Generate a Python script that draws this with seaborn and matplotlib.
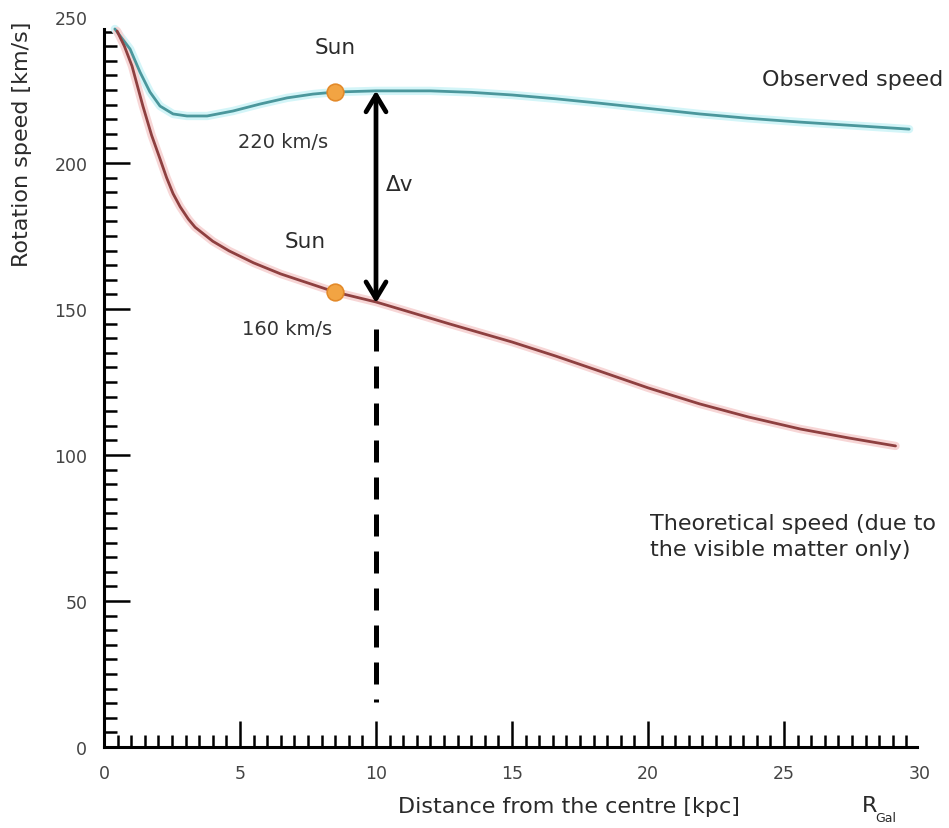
import numpy as np
import pandas as pd
import matplotlib
matplotlib.use("Agg")
import matplotlib.pyplot as plt
from matplotlib.ticker import MultipleLocator
import seaborn as sns

# Observed rotation curve (kpc, km/s)
obs_r = [0.40, 0.96, 1.32, 1.69, 2.06, 2.54, 3.05, 3.79, 4.74, 5.74, 6.73, 7.68, 8.5,
         10.0, 12.0, 13.5, 15.0, 16.6, 18.2, 20.0, 21.9, 23.7, 25.6, 27.6, 29.6]
obs_v = [245.9, 239.0, 231.2, 224.3, 219.5, 216.8, 216.1, 216.1, 217.8, 220.2, 222.3, 223.6, 224.3,
         224.7, 224.7, 224.2, 223.3, 222.0, 220.5, 218.7, 216.8, 215.3, 214.0, 212.8, 211.6]

# Theoretical curve from visible matter only
theo_r = [0.48, 0.75, 1.03, 1.43, 1.75, 2.06, 2.3, 2.54, 2.8, 3.1, 3.35, 4.0, 4.6, 5.5, 6.5, 7.5,
          8.5, 10.0, 11.3, 12.7, 15.0, 16.6, 18.2, 20.0, 21.9, 23.7, 25.6, 27.4, 29.1]
theo_v = [245.2, 240.0, 233.2, 219.5, 209.5, 201.4, 195.0, 189.5, 185.0, 180.8, 178.0, 173.2, 169.9,
          165.8, 162.0, 158.9, 155.8, 152.4, 148.8, 144.9, 138.7, 133.9, 128.8, 123.0, 117.5,
          113.0, 108.9, 105.8, 103.1]

# Sun position on both curves
sun_r = [8.5, 8.5]
sun_v = [224.3, 155.8]

x_ticks = [0, 5, 10, 15, 20, 25, 30]
y_ticks = [0, 50, 100, 150, 200, 250]

sns.set_theme(style="white")
plt.rcParams["font.family"] = ["DejaVu Sans"]

fig = plt.figure(figsize=(9.49, 8.29), dpi=100)
ax = fig.add_axes([104 / 949, 81 / 829, (920 - 104) / 949, (748 - 18) / 829])

obs = pd.DataFrame({"r": obs_r, "v": obs_v})
theo = pd.DataFrame({"r": theo_r, "v": theo_v})

# soft halo under each curve, then the curve itself
sns.lineplot(data=obs, x="r", y="v", ax=ax, color="#d3f5f8", lw=6, sort=False)
sns.lineplot(data=theo, x="r", y="v", ax=ax, color="#f7d6d6", lw=6, sort=False)
sns.lineplot(data=obs, x="r", y="v", ax=ax, color="#4b979c", lw=2, sort=False)
sns.lineplot(data=theo, x="r", y="v", ax=ax, color="#8e4040", lw=2, sort=False)

ax.plot(sun_r, sun_v, "o", ms=12, mfc="#f2a443", mec="#e38a2a", mew=1.2, zorder=5)

# Delta v arrow and dashed line at 10 kpc
ax.annotate("", xy=(10, 224.8), xytext=(10, 152.0),
            arrowprops=dict(arrowstyle="<->, head_length=1.0, head_width=0.6",
                            color="black", lw=3.4, shrinkA=0, shrinkB=0))
dash, = ax.plot([10, 10], [143, 15.4], color="black", lw=3.6)
dash.set_dashes([4.4, 3.0])

txt = "#2a2a2a"
ax.text(8.49, 239.7, "Sun", ha="center", va="center", fontsize=15.5, color=txt)
ax.text(7.39, 173.3, "Sun", ha="center", va="center", fontsize=15.5, color=txt)
ax.text(6.58, 207.2, "220 km/s", ha="center", va="center", fontsize=14, color="#333333")
ax.text(6.73, 143.2, "160 km/s", ha="center", va="center", fontsize=14, color="#333333")
ax.text(10.88, 192.8, "Δv", ha="center", va="center", fontsize=15.5, color=txt)
ax.text(30.85, 228.8, "Observed speed", ha="right", va="center", fontsize=16,
        color=txt, clip_on=False)
ax.text(20.07, 72.3, "Theoretical speed (due to\nthe visible matter only)", ha="left",
        va="center", fontsize=16, color=txt, linespacing=1.35, clip_on=False)

ax.set_xlim(0, 30)
ax.set_ylim(0, 250)
ax.set_xticks(x_ticks)
ax.set_yticks(y_ticks)
ax.xaxis.set_minor_locator(MultipleLocator(0.5))
ax.yaxis.set_minor_locator(MultipleLocator(5))
ax.tick_params(which="major", direction="in", length=19, width=1.8, colors="black",
               labelcolor="#444444", labelsize=12.5, pad=12)
ax.tick_params(which="minor", direction="in", length=9, width=1.8, colors="black")
ax.tick_params(axis="x", which="both", top=False, bottom=True)
ax.tick_params(axis="y", which="both", right=False, left=True)
ax.xaxis.get_major_ticks()[-1].tick1line.set_visible(False)
ax.yaxis.get_major_ticks()[-1].tick1line.set_visible(False)

for side in ["top", "right"]:
    ax.spines[side].set_visible(False)
ax.spines["bottom"].set_bounds(0, 29.9)
ax.spines["left"].set_bounds(0, 246)
ax.spines["bottom"].set_linewidth(2.2)
ax.spines["left"].set_linewidth(2.2)
ax.spines["bottom"].set_color("black")
ax.spines["left"].set_color("black")

ax.set_xlabel("Distance from the centre [kpc]", fontsize=16, color=txt, labelpad=10)
ax.set_ylabel("Rotation speed [km/s]", fontsize=16, color=txt, labelpad=16)
# labels sit off-centre in the original
ax.xaxis.label.set_x(0.57)
ax.yaxis.label.set_y(0.827)
ax.text(28.15, -19.8, "R", ha="center", va="center", fontsize=16, color=txt, clip_on=False)
ax.text(28.75, -24.3, "Gal", ha="center", va="center", fontsize=9, color=txt, clip_on=False)

fig.savefig("out.png", dpi=100, facecolor="white")
